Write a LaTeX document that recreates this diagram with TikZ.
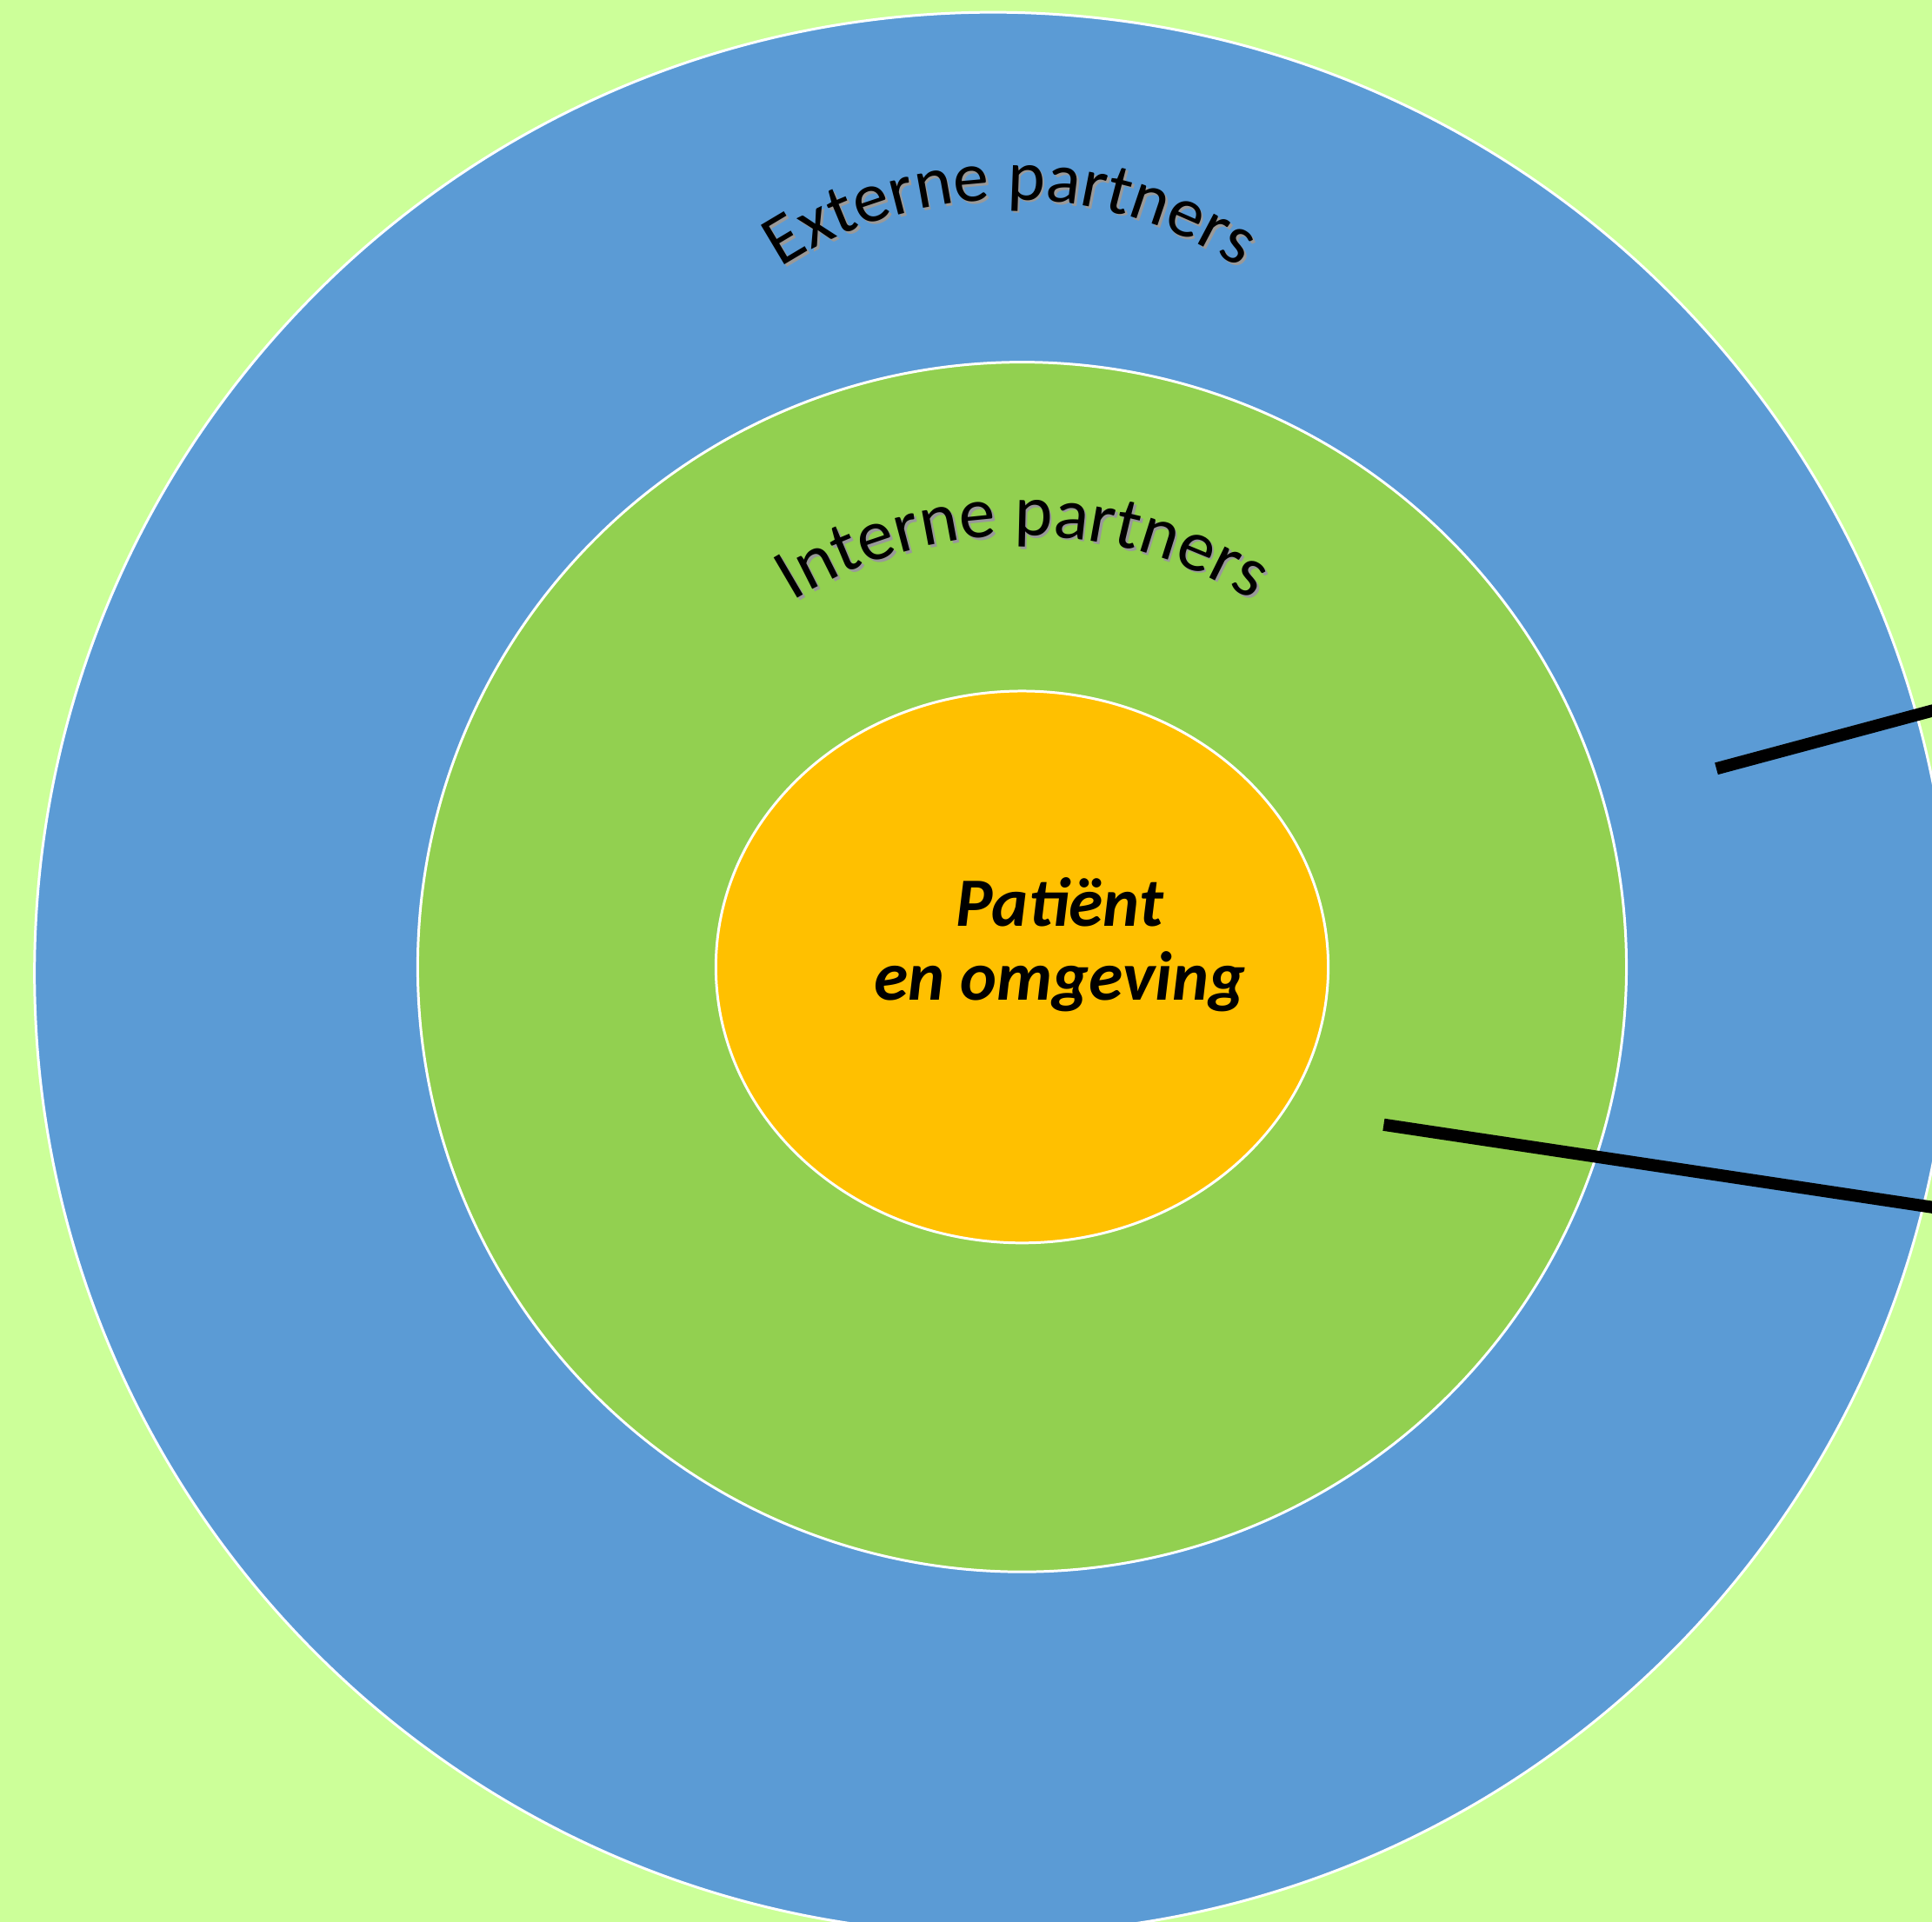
\documentclass[tikz,border=0pt]{standalone}
\usepackage{fontspec}
\setmainfont{Carlito}
\usetikzlibrary{decorations.text}

\definecolor{bgGreen}{HTML}{CCFF99}
\definecolor{outerBlue}{HTML}{5B9BD5}
\definecolor{midGreen}{HTML}{92D050}
\definecolor{innerOrange}{HTML}{FFC000}

\tikzset{
    ring/.style={draw=white, line width=0.6pt, fill=#1},
    pointer/.style={draw=black, line width=1mm},
    arctext/.style n args={3}{decorate, decoration={text along path, text align=center,
        text format delimiters={|}{|}, text={|\fontsize{#1}{20}\selectfont\color{#2}|#3}}}
}

\begin{document}
\begin{tikzpicture}[x=0.1mm,y=0.1mm]

% Background
\fill[bgGreen] (0,0) rectangle (1568,1560);
\useasboundingbox (0,0) rectangle (1568,1560);

\begin{scope}
    \clip (0,0) rectangle (1568,1560);
    % Rings
    \draw[ring=outerBlue] (806,770) ellipse [x radius=778, y radius=780];
    \draw[ring=midGreen] (829.5,775) ellipse [x radius=490.5, y radius=491];
    \draw[ring=innerOrange] (829.5,775) ellipse [x radius=248.5, y radius=224];

    % Pointer lines
    \coordinate (upA) at (1393,936);
    \coordinate (upB) at (1600,991.6);
    \coordinate (lowA) at (1123,647);
    \coordinate (lowB) at (1600,575.2);
    \draw[pointer] (upA) -- (upB);
    \draw[pointer] (lowA) -- (lowB);
\end{scope}

% Arched labels (soft shadow first)
\coordinate (extC) at (820,1058);
\coordinate (extS) at (822,1056);
\coordinate (intC) at (830,769);
\coordinate (intS) at (832,767);
\path[arctext={16.5}{black!40}{Externe partners}] ([shift={(150:340)}]extS) arc [start angle=150, end angle=30, radius=340];
\path[arctext={16.5}{black}{Externe partners}] ([shift={(150:340)}]extC) arc [start angle=150, end angle=30, radius=340];
\path[arctext={16.8}{black!40}{Interne partners}] ([shift={(150:356)}]intS) arc [start angle=150, end angle=30, radius=356];
\path[arctext={16.8}{black}{Interne partners}] ([shift={(150:356)}]intC) arc [start angle=150, end angle=30, radius=356];

% Centre
\node[font=\fontsize{16}{17}\selectfont\bfseries\itshape, align=center] (patient) at (860,793) {Patiënt\\en omgeving};

\end{tikzpicture}
\end{document}
